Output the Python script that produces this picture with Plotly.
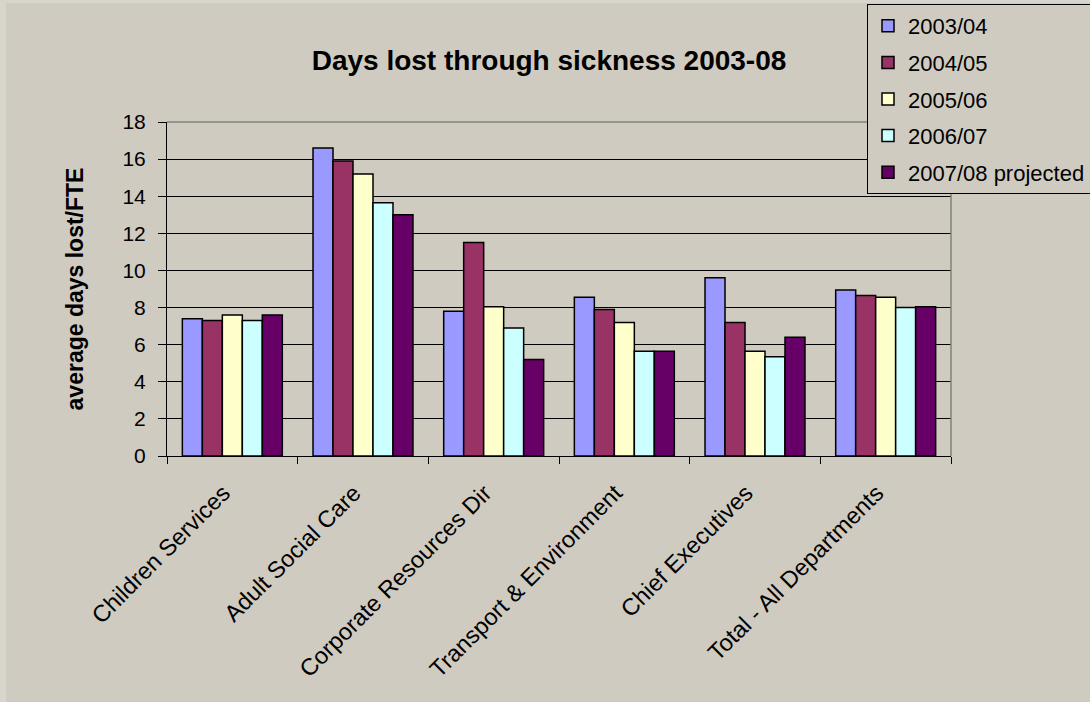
import plotly.graph_objects as go

# Departments on the category axis
departments = [
    "Children Services",
    "Adult Social Care",
    "Corporate Resources Dir",
    "Transport & Environment",
    "Chief Executives",
    "Total - All Departments",
]

# Average days lost per FTE, one list per year
days_2003_04 = [7.4, 16.6, 7.8, 8.55, 9.6, 8.95]
days_2004_05 = [7.3, 15.9, 11.5, 7.9, 7.2, 8.65]
days_2005_06 = [7.6, 15.2, 8.05, 7.2, 5.65, 8.55]
days_2006_07 = [7.3, 13.65, 6.9, 5.65, 5.35, 8.0]
days_2007_08_projected = [7.6, 13.0, 5.2, 5.65, 6.4, 8.05]

series_names = ["2003/04", "2004/05", "2005/06", "2006/07", "2007/08 projected"]
series_values = [days_2003_04, days_2004_05, days_2005_06, days_2006_07, days_2007_08_projected]
series_colors = ["#9999FF", "#993366", "#FFFFCC", "#CCFFFF", "#660066"]

y_ticks = [0, 2, 4, 6, 8, 10, 12, 14, 16, 18]

FONT = "Liberation Sans, Arial, sans-serif"
CHART_BG = "#CFCBC0"

fig = go.Figure()
for i, (name, vals, col) in enumerate(zip(series_names, series_values, series_colors)):
    fig.add_trace(go.Bar(
        name=name,
        x=departments,
        y=vals,
        marker=dict(color=col, line=dict(color="black", width=1.5)),
        legendgroup=f"g{i}",
    ))

# Plot area geometry in pixels (used for the surrounding frame shapes)
W, H = 1090, 702
L, R, T, B = 167, 951, 122, 456

def px_x(x):
    return (x - L) / (R - L)

def px_y(y):
    return (B - y) / (B - T)

fig.update_layout(
    width=W,
    height=H,
    margin=dict(l=L, r=W - R, t=T, b=H - B, autoexpand=False),
    paper_bgcolor="#D8D5CD",
    plot_bgcolor="#C0C0C0",
    barmode="group",
    bargap=0.235,
    bargroupgap=0,
    font=dict(family=FONT, color="black", size=21),
    title=dict(
        text="<b>Days lost through sickness 2003-08</b>",
        font=dict(family=FONT, size=28, color="black"),
        x=549 / W,
        xanchor="center",
        y=1 - 60 / H,
        yanchor="middle",
    ),
    legend=dict(
        xref="paper",
        yref="paper",
        x=px_x(867),
        y=px_y(4),
        xanchor="left",
        yanchor="top",
        bgcolor=CHART_BG,
        bordercolor="black",
        borderwidth=1,
        font=dict(family=FONT, size=22, color="black"),
        tracegroupgap=5,
        itemwidth=30,
    ),
    xaxis=dict(
        type="category",
        tickangle=-45,
        tickfont=dict(family=FONT, size=23.5, color="black"),
        ticklabelstandoff=13,
        ticklabelshift=-9,
        showline=True,
        linecolor="black",
        linewidth=1,
        ticks="outside",
        ticklen=7,
        tickcolor="black",
        tickson="boundaries",
        showgrid=False,
    ),
    yaxis=dict(
        range=[0, 18],
        tickvals=y_ticks,
        ticktext=[str(v) for v in y_ticks],
        tickfont=dict(family=FONT, size=21, color="black"),
        ticklabelstandoff=8,
        showline=True,
        linecolor="black",
        linewidth=1,
        ticks="outside",
        ticklen=8,
        tickcolor="black",
        showgrid=True,
        gridcolor="black",
        gridwidth=1,
        zeroline=False,
        title=dict(
            text="<b>average days lost/FTE</b>",
            font=dict(family=FONT, size=23, color="black"),
            standoff=32,
        ),
    ),
    shapes=[
        # chart area panel inside the thin outer margin
        dict(type="rect", xref="paper", yref="paper",
             x0=px_x(6), x1=px_x(W + 5), y0=px_y(H + 5), y1=px_y(3),
             fillcolor=CHART_BG, line=dict(width=0), layer="below"),
        # grey frame on top and right of the plot area
        dict(type="line", xref="paper", yref="paper",
             x0=0, x1=1, y0=1, y1=1, line=dict(color="#808080", width=1.5), layer="above"),
        dict(type="line", xref="paper", yref="paper",
             x0=1, x1=1, y0=0, y1=1, line=dict(color="#808080", width=1.5), layer="above"),
    ],
)

fig.write_html("out.html")
